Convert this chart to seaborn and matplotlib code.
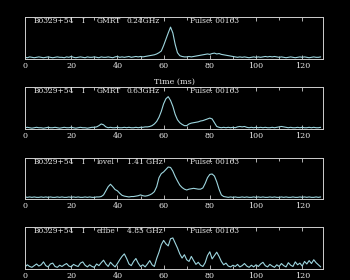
import numpy as np
import pandas as pd
import seaborn as sns
import matplotlib
matplotlib.use("Agg")
import matplotlib.pyplot as plt
from matplotlib.ticker import MultipleLocator
import matplotlib.transforms as mtransforms

# ---- data (normalised intensity, 1 ms bins, 0..128 ms) ----
prof_024 = [
    0.04, 0.03, 0.05, 0.04, 0.03, 0.04, 0.05, 0.04, 0.03, 0.04,
    0.05, 0.04, 0.03, 0.04, 0.05, 0.04, 0.04, 0.03, 0.05, 0.04,
    0.06, 0.04, 0.03, 0.04, 0.05, 0.04, 0.03, 0.05, 0.04, 0.04,
    0.05, 0.04, 0.03, 0.05, 0.04, 0.04, 0.05, 0.04, 0.03, 0.05,
    0.06, 0.04, 0.05, 0.04, 0.05, 0.06, 0.04, 0.05, 0.06, 0.05,
    0.06, 0.05, 0.06, 0.07, 0.08, 0.09, 0.10, 0.12, 0.15, 0.19,
    0.32, 0.47, 0.62, 0.76, 0.62, 0.35, 0.15, 0.08, 0.06, 0.05,
    0.05, 0.06, 0.05, 0.06, 0.07, 0.08, 0.09, 0.10, 0.11, 0.12,
    0.11, 0.13, 0.14, 0.12, 0.13, 0.11, 0.10, 0.09, 0.08, 0.07,
    0.06, 0.05, 0.04, 0.05, 0.04, 0.05, 0.04, 0.03, 0.04, 0.05,
    0.04, 0.05, 0.04, 0.05, 0.06, 0.05, 0.06, 0.05, 0.06, 0.05,
    0.04, 0.05, 0.04, 0.03, 0.04, 0.05, 0.04, 0.03, 0.04, 0.05,
    0.04, 0.05, 0.04, 0.03, 0.04, 0.05, 0.04, 0.04, 0.05,
]
prof_063 = [
    0.03, 0.04, 0.03, 0.02, 0.03, 0.04, 0.03, 0.03, 0.02, 0.03,
    0.04, 0.03, 0.03, 0.04, 0.03, 0.02, 0.03, 0.04, 0.03, 0.03,
    0.04, 0.03, 0.02, 0.03, 0.04, 0.03, 0.03, 0.02, 0.03, 0.04,
    0.04, 0.05, 0.08, 0.12, 0.10, 0.05, 0.03, 0.04, 0.03, 0.03,
    0.04, 0.03, 0.03, 0.04, 0.03, 0.04, 0.03, 0.03, 0.04, 0.03,
    0.04, 0.04, 0.05, 0.05, 0.06, 0.08, 0.12, 0.18, 0.28, 0.42,
    0.60, 0.72, 0.77, 0.68, 0.54, 0.35, 0.22, 0.15, 0.11, 0.08,
    0.08, 0.12, 0.14, 0.15, 0.16, 0.17, 0.19, 0.20, 0.22, 0.24,
    0.26, 0.24, 0.15, 0.06, 0.04, 0.03, 0.04, 0.03, 0.04, 0.03,
    0.04, 0.03, 0.05, 0.06, 0.05, 0.06, 0.04, 0.03, 0.04, 0.03,
    0.04, 0.03, 0.04, 0.03, 0.04, 0.03, 0.03, 0.04, 0.03, 0.04,
    0.05, 0.06, 0.05, 0.04, 0.03, 0.04, 0.03, 0.03, 0.04, 0.03,
    0.04, 0.03, 0.03, 0.04, 0.03, 0.04, 0.03, 0.03, 0.04,
]
prof_141 = [
    0.05, 0.04, 0.05, 0.04, 0.05, 0.04, 0.04, 0.05, 0.04, 0.05,
    0.04, 0.05, 0.04, 0.04, 0.05, 0.04, 0.05, 0.04, 0.04, 0.05,
    0.04, 0.05, 0.04, 0.05, 0.04, 0.04, 0.05, 0.04, 0.05, 0.04,
    0.04, 0.05, 0.05, 0.06, 0.10, 0.20, 0.30, 0.36, 0.30, 0.23,
    0.20, 0.14, 0.09, 0.07, 0.06, 0.05, 0.06, 0.06, 0.07, 0.08,
    0.10, 0.08, 0.07, 0.08, 0.10, 0.13, 0.18, 0.30, 0.52, 0.62,
    0.66, 0.72, 0.78, 0.77, 0.68, 0.55, 0.44, 0.34, 0.28, 0.24,
    0.22, 0.24, 0.25, 0.26, 0.25, 0.24, 0.24, 0.27, 0.38, 0.52,
    0.60, 0.61, 0.56, 0.42, 0.24, 0.10, 0.06, 0.05, 0.04, 0.05,
    0.04, 0.05, 0.04, 0.04, 0.05, 0.04, 0.05, 0.04, 0.04, 0.05,
    0.04, 0.05, 0.04, 0.05, 0.04, 0.04, 0.05, 0.04, 0.05, 0.04,
    0.04, 0.05, 0.04, 0.05, 0.04, 0.04, 0.05, 0.04, 0.04, 0.05,
    0.04, 0.05, 0.04, 0.05, 0.04, 0.04, 0.05, 0.04, 0.05,
]
prof_485 = [
    0.05, 0.10, 0.06, 0.04, 0.08, 0.12, 0.07, 0.10, 0.17, 0.08,
    0.05, 0.12, 0.14, 0.06, 0.04, 0.09, 0.06, 0.10, 0.13, 0.07,
    0.05, 0.11, 0.08, 0.06, 0.14, 0.17, 0.09, 0.05, 0.10, 0.06,
    0.04, 0.12, 0.08, 0.15, 0.21, 0.12, 0.06, 0.16, 0.10, 0.05,
    0.13, 0.22, 0.30, 0.36, 0.25, 0.12, 0.08, 0.18, 0.25, 0.14,
    0.06, 0.10, 0.05, 0.12, 0.20, 0.10, 0.06, 0.25, 0.40, 0.58,
    0.68, 0.60, 0.55, 0.72, 0.74, 0.62, 0.50, 0.36, 0.26, 0.34,
    0.22, 0.18, 0.30, 0.20, 0.11, 0.16, 0.09, 0.06, 0.15, 0.32,
    0.41, 0.24, 0.32, 0.40, 0.30, 0.18, 0.10, 0.14, 0.07, 0.05,
    0.09, 0.06, 0.11, 0.05, 0.08, 0.13, 0.07, 0.04, 0.09, 0.05,
    0.10, 0.06, 0.12, 0.16, 0.08, 0.05, 0.11, 0.07, 0.04, 0.10,
    0.06, 0.13, 0.08, 0.05, 0.15, 0.09, 0.06, 0.17, 0.10, 0.14,
    0.07, 0.18, 0.12, 0.20, 0.13, 0.22, 0.15, 0.10, 0.05,
]

source = "B0329+54"
stokes = "I"
telescopes = ["GMRT", "GMRT", "lovel", "effbe"]
frequencies = ["0.24GHz", "0.63GHz", "1.41 GHz", "4.85 GHz"]
pulse_label = "Pulse: 00163"
profiles = [prof_024, prof_063, prof_141, prof_485]
x_ticks = [0, 20, 40, 60, 80, 100, 120]
x_label = "Time (ms)"

# ---- style ----
sns.set_style("dark", rc={
    "axes.facecolor": "black",
    "figure.facecolor": "black",
    "axes.edgecolor": "#cfcfcf",
    "text.color": "#e6e6e6",
    "xtick.color": "#cfcfcf",
    "ytick.color": "#cfcfcf",
    "axes.grid": False,
})
plt.rcParams["font.family"] = ["DejaVu Serif"]

fig = plt.figure(figsize=(3.5, 2.8), dpi=100)
W, H = 350.0, 280.0
left_px, right_px = 25, 323
panels_px = [(17, 59), (87, 129), (158, 199), (227, 269)]

line_color = "#9ed6df"

for i, (top, bot) in enumerate(panels_px):
    ax = fig.add_axes([left_px / W, 1 - bot / H,
                       (right_px - left_px) / W, (bot - top) / H])
    df = pd.DataFrame({"t": np.arange(len(profiles[i])), "v": profiles[i]})
    sns.lineplot(data=df, x="t", y="v", ax=ax, color=line_color,
                 linewidth=0.8)
    ax.set_xlim(0, 129)
    ax.set_ylim(0, 1)
    ax.set_xlabel("")
    ax.set_ylabel("")
    ax.set_yticks([])
    ax.set_xticks(x_ticks)
    ax.set_xticklabels([str(v) for v in x_ticks], fontsize=5.8,
                       color="#e6e6e6")
    ax.xaxis.set_minor_locator(MultipleLocator(10))
    ax.tick_params(axis="x", which="major", direction="in", length=3,
                   width=0.6, top=True, bottom=True, pad=2.5)
    ax.tick_params(axis="x", which="minor", direction="in", length=2.5,
                   width=0.6, top=True, bottom=True)
    for sp in ax.spines.values():
        sp.set_color("#cfcfcf")
        sp.set_linewidth(0.7)

    trans = mtransforms.blended_transform_factory(ax.transData, ax.transAxes)
    ty = 0.9
    fs = 5.4
    ax.text(3.8, ty, source, transform=trans, fontsize=fs, va="center")
    ax.text(24.5, ty, stokes, transform=trans, fontsize=fs, va="center")
    ax.text(31.2, ty, telescopes[i], transform=trans, fontsize=fs,
            va="center")
    ax.text(44.0, ty, frequencies[i], transform=trans, fontsize=fs,
            va="center")
    ax.text(71.5, ty, pulse_label, transform=trans, fontsize=fs,
            va="center")

fig.text((left_px + right_px) / 2 / W, 1 - 82 / H, x_label, fontsize=5.8,
         ha="center", va="center", color="#e6e6e6")

fig.savefig("out.png", dpi=100, facecolor="black")
